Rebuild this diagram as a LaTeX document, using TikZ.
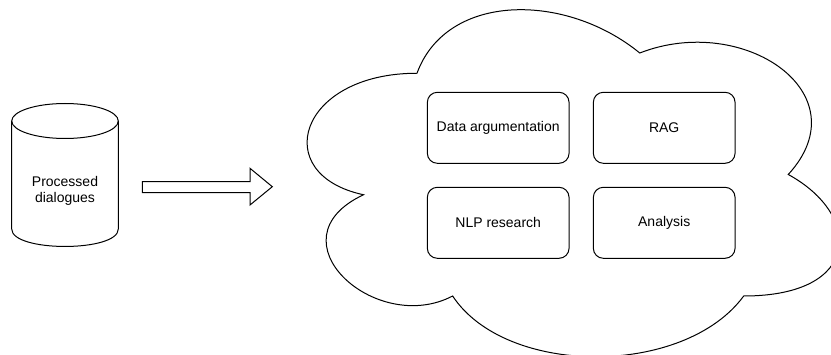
\documentclass[tikz,border=0pt]{standalone}
\usepackage{fontspec}
\setmainfont{Liberation Sans}
\begin{document}
\begin{tikzpicture}[x=1pt,y=-1pt,line width=1pt,
  lbl/.style={font=\fontsize{14}{15.5}\selectfont, align=center, inner sep=0pt},
  box/.style={draw, rounded corners=10pt, minimum width=141.7pt, minimum height=71pt,
    inner sep=0pt, font=\fontsize{14}{16}\selectfont}]
\useasboundingbox (0,0) rectangle (831,355);
\clip (0,0) rectangle (831,355);

% database cylinder
\draw (65,121) ellipse [x radius=53.3pt, y radius=17.5pt];
\draw (11.7,121) -- (11.7,229)
  .. controls (11.7,252.3) and (118.3,252.3) .. (118.3,229) -- (118.3,121);
\node[lbl] (db) at (65,191) {Processed\\dialogues};

% block arrow
\draw[line join=miter] (142.3,181.7) -- (250,181.7) -- (250,168.3) -- (272.3,186.7)
  -- (250,205) -- (250,192.7) -- (142.3,192.7) -- cycle;

% cloud outline
\begin{scope}[shift={(268.5,-28)}, x=594pt, y=-405pt]
  \draw (0.25,0.25) .. controls (0.05,0.25) and (0,0.5) .. (0.16,0.55)
    .. controls (0,0.66) and (0.18,0.9) .. (0.31,0.8)
    .. controls (0.4,1) and (0.7,1) .. (0.8,0.8)
    .. controls (1,0.8) and (1,0.6) .. (0.875,0.5)
    .. controls (1,0.3) and (0.8,0.1) .. (0.625,0.2)
    .. controls (0.5,0.05) and (0.3,0.05) .. (0.25,0.25) -- cycle;
\end{scope}

% uses inside the cloud
\node[box] (da)  at (498.2,127.8) {Data argumentation};
\node[box] (rag) at (664.2,127.8) {RAG};
\node[box] (nlp) at (498.2,222.8) {NLP research};
\node[box] (an)  at (664.2,222.8) {Analysis};
\end{tikzpicture}
\end{document}
